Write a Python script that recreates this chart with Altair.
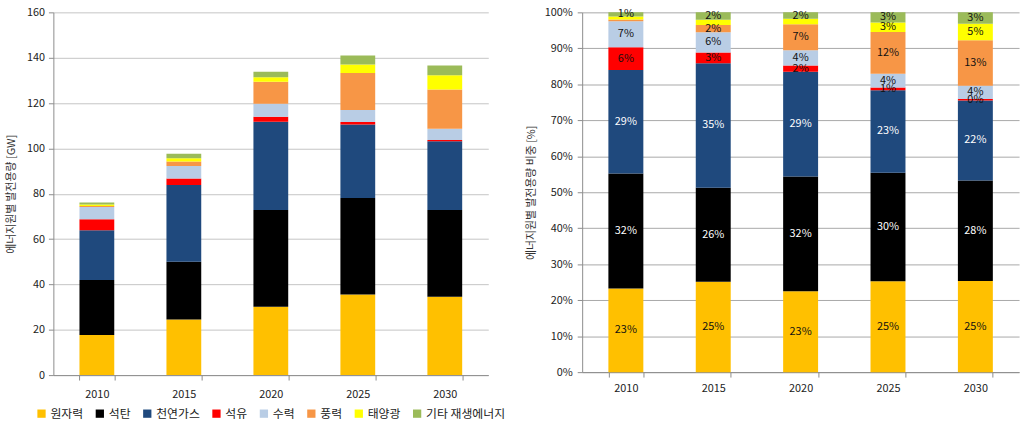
import altair as alt
import pandas as pd

years = ["2010", "2015", "2020", "2025", "2030"]
sources = ["원자력", "석탄", "천연가스", "석유", "수력", "풍력", "태양광", "기타 재생에너지"]
colors = ["#FFC000", "#000000", "#1F497D", "#FF0000", "#B9CDE5", "#F79646", "#FFFF00", "#9BBB59"]

# capacity in GW per source (order as in `sources`)
gw_2010 = [17.7, 24.3, 21.9, 4.8, 5.5, 0.4, 0.6, 0.9]
gw_2015 = [24.5, 25.5, 33.8, 2.9, 5.5, 2.0, 1.4, 2.0]
gw_2020 = [30.1, 42.7, 38.9, 2.3, 5.7, 9.7, 2.0, 2.4]
gw_2025 = [35.6, 42.5, 32.4, 1.1, 5.3, 16.4, 3.7, 4.0]
gw_2030 = [34.6, 38.2, 30.3, 0.6, 5.0, 17.3, 6.3, 4.3]

# share labels shown on the right chart
lab_2010 = ["23%", "32%", "29%", "6%", "7%", "", "", "1%"]
lab_2015 = ["25%", "26%", "35%", "3%", "6%", "2%", "", "2%"]
lab_2020 = ["23%", "32%", "29%", "2%", "4%", "7%", "", "2%"]
lab_2025 = ["25%", "30%", "23%", "1%", "4%", "12%", "3%", "3%"]
lab_2030 = ["25%", "28%", "22%", "0%", "4%", "13%", "5%", "3%"]

pct_ticks = [0, 0.1, 0.2, 0.3, 0.4, 0.5, 0.6, 0.7, 0.8, 0.9, 1.0]
gw_ticks = [0, 20, 40, 60, 80, 100, 120, 140, 160]

gw_all = [gw_2010, gw_2015, gw_2020, gw_2025, gw_2030]
lab_all = [lab_2010, lab_2015, lab_2020, lab_2025, lab_2030]

rows = []
for yi, yr in enumerate(years):
    for i, s in enumerate(sources):
        rows.append({
            "year": yr, "source": s, "order": i,
            "gw": gw_all[yi][i], "label": lab_all[yi][i],
            "tcolor": "#FFFFFF" if i in (1, 2) else "#111111",
        })
df = pd.DataFrame(rows)

FONT = "Noto Sans CJK KR"
AX = "#8C8C8C"

def xaxis(pad):
    return alt.X("year:N", title=None,
                 scale=alt.Scale(paddingInner=0.6, paddingOuter=0.3),
                 axis=alt.Axis(labelAngle=0, tickBand="extent", domainColor=AX,
                               tickColor=AX, tickSize=5, labelPadding=pad,
                               labelFontSize=11, labelFont=FONT, labelColor="#222"))

color_scale = alt.Scale(domain=sources, range=colors)

left = alt.Chart(df).mark_bar().encode(
    x=xaxis(9),
    y=alt.Y("gw:Q", stack="zero", scale=alt.Scale(domain=[0, 160]),
            axis=alt.Axis(values=gw_ticks, title="에너지원별 발전용량 [GW]",
                          gridColor="#C4C4C4", domainColor=AX, tickColor=AX, tickSize=5,
                          labelPadding=4, labelFontSize=11, labelFont=FONT, labelColor="#222",
                          labelOverlap=False,
                          titleFont=FONT, titleFontSize=11, titleFontWeight="normal",
                          titleColor="#333", titlePadding=10)),
    color=alt.Color("source:N", scale=color_scale,
                    legend=alt.Legend(title=None, orient="none", legendX=-18, legendY=400,
                                      direction="horizontal", columns=8, symbolType="square",
                                      symbolSize=70, symbolStrokeWidth=0, labelFont=FONT,
                                      labelFontSize=12, labelColor="#222", columnPadding=10,
                                      labelOffset=3)),
    order=alt.Order("order:Q"),
).properties(width=440, height=367)

r_axis = alt.Axis(values=pct_ticks, format=".0%", tickCount=11,
                  title="에너지원별 발전용량 비중  [%]",
                  gridColor="#A8A8A8", domainColor=AX, tickColor=AX, tickSize=5,
                  labelPadding=5, labelFontSize=11, labelFont=FONT, labelColor="#222",
                  labelOverlap=False,
                  titleFont=FONT, titleFontSize=11, titleFontWeight="normal",
                  titleColor="#333", titlePadding=8)

bars_r = alt.Chart(df).mark_bar().encode(
    x=xaxis(6),
    y=alt.Y("gw:Q", stack="normalize", scale=alt.Scale(domain=[0, 1]), axis=r_axis),
    color=alt.Color("source:N", scale=color_scale, legend=None),
    order=alt.Order("order:Q"),
)

text_r = alt.Chart(df).transform_stack(
    stack="gw", groupby=["year"], as_=["y0", "y1"], offset="normalize",
    sort=[alt.SortField("order", order="ascending")],
).transform_calculate(
    mid="(datum.y0 + datum.y1) / 2"
).mark_text(font=FONT, fontSize=11).encode(
    x=xaxis(6),
    y=alt.Y("mid:Q", scale=alt.Scale(domain=[0, 1]), axis=r_axis),
    text="label:N",
    color=alt.Color("tcolor:N", scale=None),
)

right = alt.layer(bars_r, text_r).properties(width=442, height=364)

chart = alt.hconcat(left, right, spacing=20).resolve_legend(
    color="independent"
).properties(
    padding={"left": 5, "top": 4, "right": 5, "bottom": 5}
).configure_view(stroke=None)

chart.save("out.html", embed_options={"renderer": "svg", "actions": False})
